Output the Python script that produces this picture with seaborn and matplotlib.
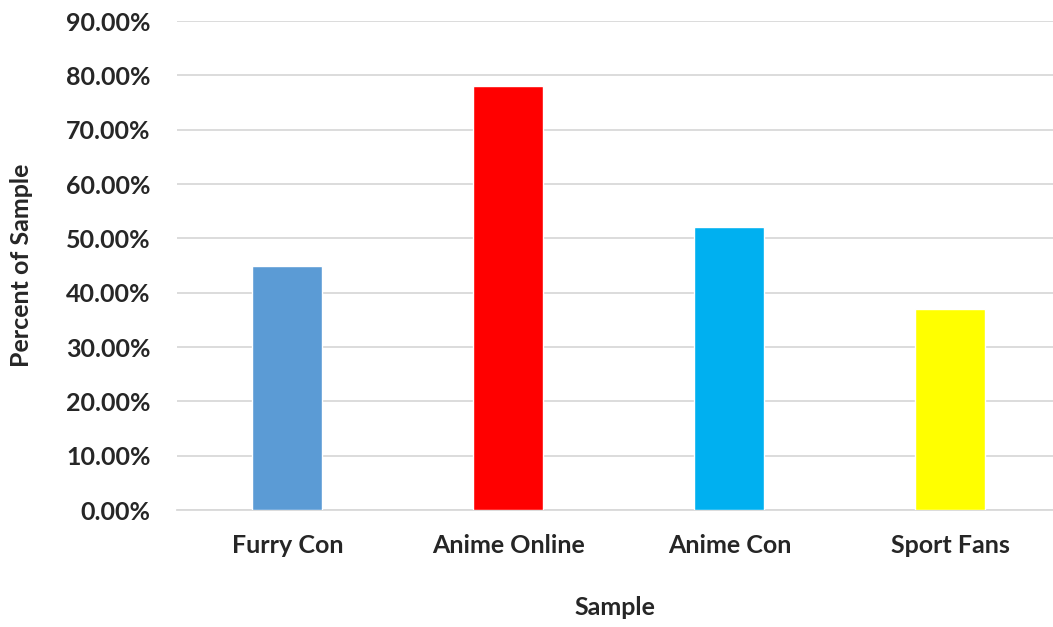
import matplotlib
matplotlib.use("Agg")
import matplotlib.pyplot as plt
import seaborn as sns
import pandas as pd
from matplotlib.ticker import PercentFormatter

# 데이터
samples = ["Furry Con", "Anime Online", "Anime Con", "Sport Fans"]
percents = [0.45, 0.78, 0.52, 0.37]
bar_colors = ["#5B9BD5", "#FF0000", "#00B0F0", "#FFFF00"]

df = pd.DataFrame({"Sample": samples, "Percent": percents})

sns.set_style("white")
plt.rcParams['font.family'] = ['Lato', 'DejaVu Sans']

fig, ax = plt.subplots(figsize=(10.53, 6.27), dpi=100)
fig.subplots_adjust(left=0.168, right=1.0, top=0.9665, bottom=0.1866)

sns.barplot(data=df, x="Sample", y="Percent", hue="Sample", palette=bar_colors,
            legend=False, width=0.317, saturation=1, ax=ax, zorder=3)

ax.set_xlim(-0.5, 3.464)
ax.set_ylim(0, 0.9)
ax.set_yticks([i / 10 for i in range(10)])
ax.yaxis.set_major_formatter(PercentFormatter(1.0, decimals=2))
ax.grid(axis="y", color="#D9D9D9", linewidth=1.3, zorder=0)
ax.set_axisbelow(True)

for s in ["top", "right", "left"]:
    ax.spines[s].set_visible(False)
ax.spines["bottom"].set_color("#D9D9D9")
ax.spines["bottom"].set_linewidth(1.3)

ax.tick_params(axis="both", length=0, labelsize=18)
ax.tick_params(axis="x", pad=17)
ax.tick_params(axis="y", pad=19)
for lbl in ax.get_xticklabels() + ax.get_yticklabels():
    lbl.set_fontweight("bold")

ax.set_xlabel("Sample", fontsize=18, fontweight="bold", labelpad=28)
ax.set_ylabel("Percent of Sample", fontsize=18, fontweight="bold", labelpad=24)

plt.savefig("out.png", dpi=100)
